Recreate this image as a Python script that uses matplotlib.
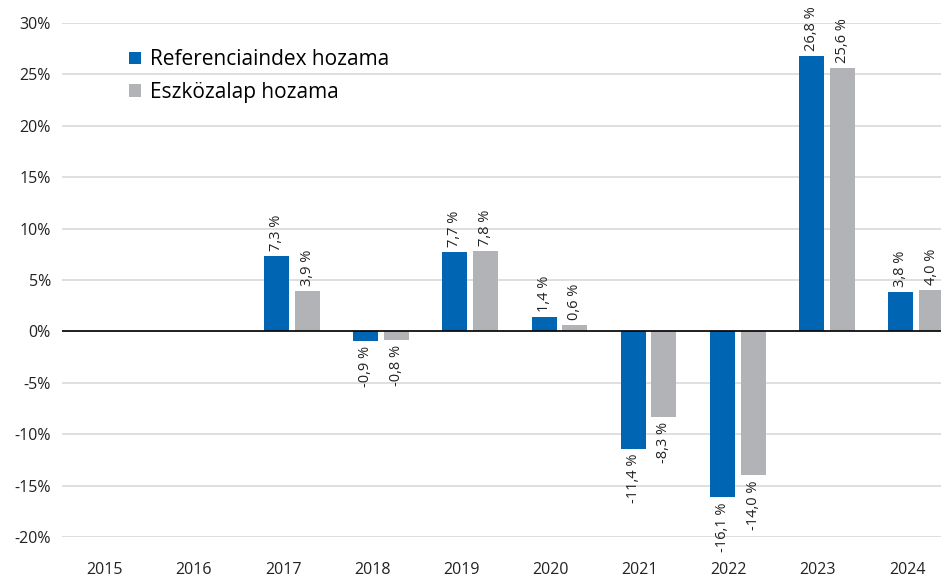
import matplotlib
matplotlib.use('Agg')
import matplotlib.pyplot as plt
import numpy as np

# Data
years = ['2015', '2016', '2017', '2018', '2019', '2020', '2021', '2022', '2023', '2024']
ref_index = [np.nan, np.nan, 7.3, -0.9, 7.7, 1.4, -11.4, -16.1, 26.8, 3.8]
fund = [np.nan, np.nan, 3.9, -0.8, 7.8, 0.6, -8.3, -14.0, 25.6, 4.0]
y_ticks = [-20, -15, -10, -5, 0, 5, 10, 15, 20, 25, 30]

blue = '#0066b3'
grey = '#b2b3b7'

plt.rcParams['font.family'] = ['Open Sans', 'DejaVu Sans']

fig = plt.figure(figsize=(9.41, 5.83), dpi=100)
ax = fig.add_axes([62 / 941, 1 - 537 / 583, 1 - 62 / 941, (537 - 23) / 583])

x = np.arange(len(years))
w = 0.28
off = 0.1
b1 = ax.bar(x + off - 0.172, ref_index, w, color=blue, label='Referenciaindex hozama', zorder=3)
b2 = ax.bar(x + off + 0.172, fund, w, color=grey, label='Eszközalap hozama', zorder=3)

# value labels
for bars, vals in [(b1, ref_index), (b2, fund)]:
    for rect, v in zip(bars, vals):
        if np.isnan(v):
            continue
        txt = f'{v:.1f} %'.replace('.', ',')
        cx = rect.get_x() + rect.get_width() / 2
        if v >= 0:
            ax.text(cx, v + 0.5, txt, rotation=90, ha='center', va='bottom', fontsize=10.5, color='#222222')
        else:
            ax.text(cx, v - 0.5, txt, rotation=90, ha='center', va='top', fontsize=10.5, color='#222222')

ax.set_ylim(-20, 30)
ax.set_xlim(-0.48, 9.38)
ax.set_yticks(y_ticks)
ax.set_yticklabels([f'{t}%' for t in y_ticks], fontsize=11.5, color='#222222')
ax.set_xticks(x)
ax.set_xticklabels(years, fontsize=11.5, color='#222222')
ax.tick_params(length=0, pad=8)
ax.tick_params(axis='x', pad=18)

ax.grid(axis='y', color='#d9d9d9', linewidth=1.2, zorder=0)
ax.axhline(0, color='black', linewidth=1.2, zorder=4)
for s in ax.spines.values():
    s.set_visible(False)

ax.legend(loc='upper left', bbox_to_anchor=(0.055, 0.985), frameon=False, fontsize=15,
          handlelength=0.55, handleheight=0.55, handletextpad=0.45, labelspacing=0.55)

plt.savefig('out.png', dpi=100)
